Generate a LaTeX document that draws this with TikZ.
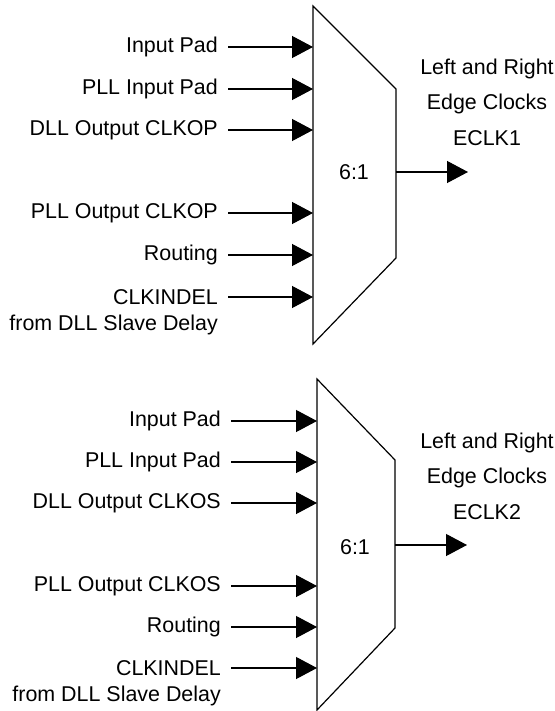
\documentclass[tikz,border=0pt]{standalone}
\usepackage{fontspec}
\setmainfont{Liberation Sans}
\usetikzlibrary{arrows.meta}

\tikzset{
	sig/.style={line width=1.2bp, -{Triangle[length=21bp,width=22bp]}},
	lbl/.style={anchor=east, inner xsep=10bp, inner ysep=0pt, font=\fontsize{21.5}{26}\selectfont},
	outlbl/.style={align=center, inner sep=0pt, font=\fontsize{21.5}{35.5}\selectfont},
	muxbody/.style={line width=1.2bp, line join=miter},
}

\begin{document}
\begin{tikzpicture}[x=1bp,y=-1bp]
			%%%%% START %%%%%
			\useasboundingbox (0,0) rectangle (555,711);
			
			% upper mux
			\draw[muxbody] (313,6) coordinate (m1nw) -- (396,89) -- (396,258) -- (313,344) -- cycle;
			\coordinate (m1e) at (396,172);
			\coordinate (t1) at (468,172);
			\node[inner sep=0pt, font=\fontsize{21.5}{26}\selectfont] (r1) at (354,172) {6:1};
			
			\node[lbl] (a1) at (228,47) {Input Pad};
			\node[lbl] (b1) at (228,89) {PLL Input Pad};
			\node[lbl] (c1) at (228,130) {DLL Output CLKOP};
			\node[lbl] (d1) at (228,213) {PLL Output CLKOP};
			\node[lbl] (e1) at (228,255) {Routing};
			\node[lbl] (f1) at (228,297) {CLKINDEL};
			\node[lbl] (g1) at (228,325) {from DLL Slave Delay};
			
			\draw[sig] (a1.east) -- (a1.east -| m1nw);
			\draw[sig] (b1.east) -- (b1.east -| m1nw);
			\draw[sig] (c1.east) -- (c1.east -| m1nw);
			\draw[sig] (d1.east) -- (d1.east -| m1nw);
			\draw[sig] (e1.east) -- (e1.east -| m1nw);
			\draw[sig] (f1.east) -- (f1.east -| m1nw);
			
			\draw[sig] (m1e) -- (t1);
			\node[outlbl] (o1) at (487,102) {Left and Right\\Edge Clocks\\ECLK1};
			
			% lower mux
			\draw[muxbody] (317,379) coordinate (m2nw) -- (395,460) -- (395,628) -- (317,710) -- cycle;
			\coordinate (m2e) at (395,545);
			\coordinate (t2) at (467,545);
			\node[inner sep=0pt, font=\fontsize{21.5}{26}\selectfont] (r2) at (355,547) {6:1};
			
			\node[lbl] (a2) at (231,421) {Input Pad};
			\node[lbl] (b2) at (231,462) {PLL Input Pad};
			\node[lbl] (c2) at (231,503) {DLL Output CLKOS};
			\node[lbl] (d2) at (231,586) {PLL Output CLKOS};
			\node[lbl] (e2) at (231,627) {Routing};
			\node[lbl] (f2) at (231,668) {CLKINDEL};
			\node[lbl] (g2) at (231,696) {from DLL Slave Delay};
			
			\draw[sig] (a2.east) -- (a2.east -| m2nw);
			\draw[sig] (b2.east) -- (b2.east -| m2nw);
			\draw[sig] (c2.east) -- (c2.east -| m2nw);
			\draw[sig] (d2.east) -- (d2.east -| m2nw);
			\draw[sig] (e2.east) -- (e2.east -| m2nw);
			\draw[sig] (f2.east) -- (f2.east -| m2nw);
			
			\draw[sig] (m2e) -- (t2);
			\node[outlbl] (o2) at (487,476) {Left and Right\\Edge Clocks\\ECLK2};
			
			%%%%% END %%%%%
\end{tikzpicture}
\end{document}
